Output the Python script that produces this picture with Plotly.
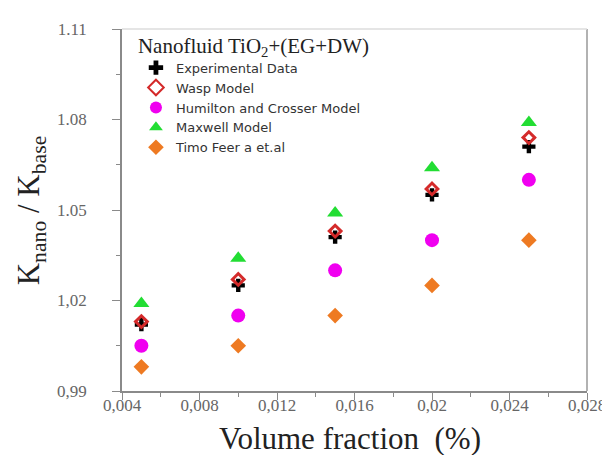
import plotly.graph_objects as go

volume_fraction = [0.005, 0.010, 0.015, 0.020, 0.025]
experimental = [1.012, 1.025, 1.041, 1.055, 1.071]
wasp = [1.013, 1.027, 1.043, 1.057, 1.074]
hamilton = [1.005, 1.015, 1.030, 1.040, 1.060]
maxwell = [1.019, 1.034, 1.049, 1.064, 1.079]
timo = [0.998, 1.005, 1.015, 1.025, 1.040]

x_tickvals = [0.004, 0.008, 0.012, 0.016, 0.020, 0.024, 0.028]
x_ticktext = ["0,004", "0,008", "0,012", "0,016", "0,02", "0,024", "0,028"]
y_tickvals = [0.99, 1.02, 1.05, 1.08, 1.11]
y_ticktext = ["0,99", "1,02", "1.05", "1.08", "1.11"]

SERIF = "Liberation Serif, Times New Roman, serif"

fig = go.Figure()
fig.add_trace(go.Scatter(x=volume_fraction, y=experimental, mode="markers",
                         name="Experimental Data",
                         marker=dict(symbol="cross", size=11, color="black")))
fig.add_trace(go.Scatter(x=volume_fraction, y=wasp, mode="markers",
                         name="Wasp Model",
                         marker=dict(symbol="diamond-open", size=9, color="#d42a2a",
                                     line=dict(width=3, color="#d42a2a"))))
fig.add_trace(go.Scatter(x=volume_fraction, y=hamilton, mode="markers",
                         name="Humilton and Crosser Model",
                         marker=dict(symbol="circle", size=14, color="#f000f0")))
fig.add_trace(go.Scatter(x=volume_fraction, y=maxwell, mode="markers",
                         name="Maxwell Model",
                         marker=dict(symbol="triangle-up", size=14, color="#22dd33")))
fig.add_trace(go.Scatter(x=volume_fraction, y=timo, mode="markers",
                         name="Timo Feer a et.al",
                         marker=dict(symbol="diamond", size=12, color="#ee7a22")))

axis_common = dict(showline=True, linecolor="#8a8a8a", linewidth=1.5, mirror=False,
                   showgrid=False, zeroline=False, ticks="outside",
                   tickcolor="#8a8a8a",
                   tickfont=dict(family=SERIF, size=17, color="#666666"))

fig.update_layout(
    width=610, height=455, autosize=False,
    plot_bgcolor="white", paper_bgcolor="white",
    margin=dict(l=114, r=25, t=16, b=72),
    xaxis=dict(range=[0.004, 0.028], tickvals=x_tickvals, ticktext=x_ticktext,
               ticklen=7, ticklabelstandoff=-9,
               minor=dict(ticks="outside", ticklen=4, tickcolor="#8a8a8a",
                          tickvals=[0.006, 0.010, 0.014, 0.018, 0.022, 0.026]),
               **axis_common),
    yaxis=dict(range=[0.99, 1.11], tickvals=y_tickvals, ticktext=y_ticktext,
               ticklen=8, ticklabelstandoff=22,
               minor=dict(ticks="outside", ticklen=4, tickcolor="#8a8a8a",
                          tickvals=[1.005, 1.035, 1.065, 1.095]),
               **axis_common),
    showlegend=True,
    legend=dict(x=0.03, y=1.01, xanchor="left", yanchor="top",
                bgcolor="rgba(255,255,255,0)",
                font=dict(family="DejaVu Sans, Arial, sans-serif", size=13, color="#333333"),
                title=dict(text="Nanofluid TiO<sub>2</sub>+(EG+DW)",
                           font=dict(family=SERIF, size=21, color="#222222")),
                tracegroupgap=0, itemsizing="constant"),
    shapes=[
        dict(type="line", xref="paper", yref="paper", x0=1, x1=1, y0=0, y1=1,
             line=dict(color="#999999", width=1.5)),
        dict(type="line", xref="paper", yref="paper", x0=0, x1=1, y0=1, y1=1,
             line=dict(color="#dddddd", width=1.5)),
    ],
    annotations=[
        dict(text="K<sub>nano</sub> / K<sub>base</sub>", xref="paper", yref="paper",
             x=-0.195, y=0.5, xanchor="center", yanchor="middle", textangle=-90,
             showarrow=False,
             font=dict(family=SERIF, size=31, color="#222222")),
        dict(text="Volume fraction  (%)", xref="paper", yref="paper",
             x=0.49, y=-0.13, xanchor="center", yanchor="middle", showarrow=False,
             font=dict(family=SERIF, size=31, color="#222222")),
    ],
)

fig.write_html("out.html")
